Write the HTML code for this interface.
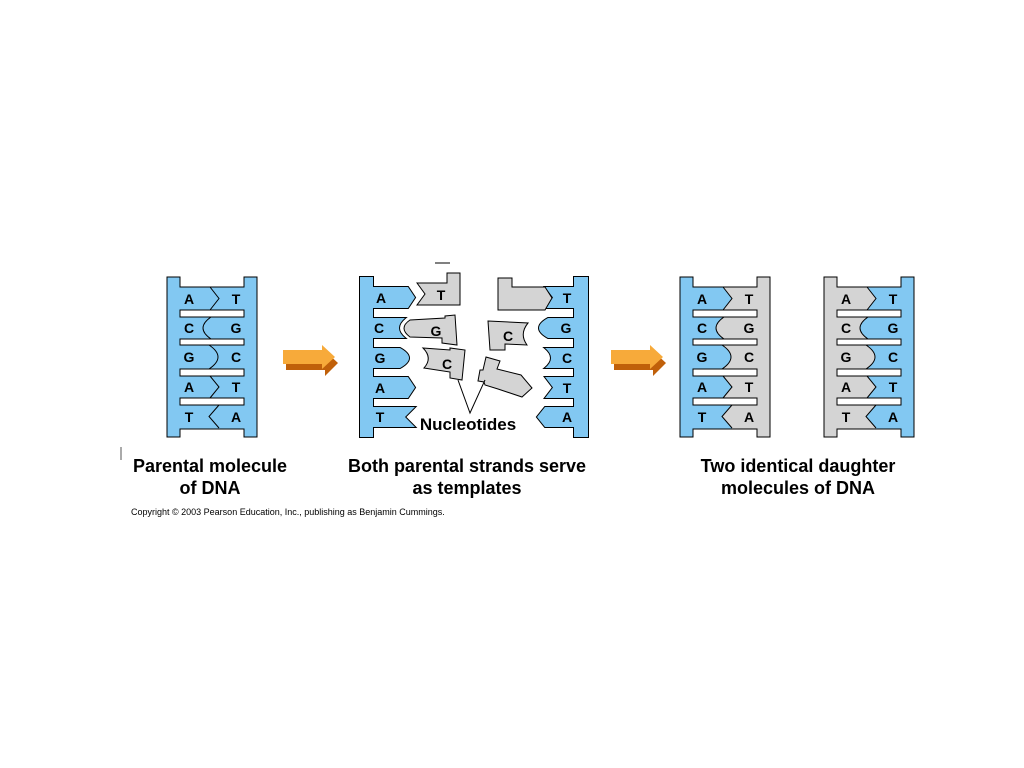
<!DOCTYPE html>
<html><head><meta charset="utf-8"><style>
html,body{margin:0;padding:0;background:#fff;}
svg{display:block;}
text{font-family:"Liberation Sans",Arial,sans-serif;font-weight:bold;fill:#000;}
</style></head><body>
<svg width="1024" height="768" viewBox="0 0 1024 768" xmlns="http://www.w3.org/2000/svg">
<defs>
  <path id="outer" d="M0,0 L13,0 L13,10 L77,10 L77,0 L90,0 L90,160 L77,160 L77,152 L13,152 L13,160 L0,160 Z"/>
  <path id="lefthalf" d="M0,0 L13,0 L13,10 L43,10 L52,21.5 L43,33 L44,40 Q28,51 44,62 L42,68 Q60,80 42,92 L43,99 L52,110 L43,121 L52,128 L42,139.5 L52,151 L52,152 L13,152 L13,160 L0,160 Z"/>
  <path id="bound" d="M43,10 L52,21.5 L43,33 M44,40 Q28,51 44,62 M42,68 Q60,80 42,92 M43,99 L52,110 L43,121 M52,128 L42,139.5 L52,151" fill="none" stroke="#000" stroke-width="1"/>
  <g id="rungs" fill="#fff" stroke="#000" stroke-width="1">
    <rect x="13" y="33" width="64" height="7"/>
    <rect x="13" y="62" width="64" height="6"/>
    <rect x="13" y="92" width="64" height="7"/>
    <rect x="13" y="121" width="64" height="7"/>
  </g>
  <g id="labels" font-size="14" text-anchor="middle">
    <text x="22" y="27">A</text><text x="69" y="27">T</text>
    <text x="22" y="56">C</text><text x="69" y="56">G</text>
    <text x="22" y="85">G</text><text x="69" y="85">C</text>
    <text x="22" y="115">A</text><text x="69" y="115">T</text>
    <text x="22" y="145">T</text><text x="69" y="145">A</text>
  </g>
</defs>

<!-- Parental -->
<g transform="translate(167,277)">
  <use href="#outer" fill="#82c8f2"/>
  <use href="#lefthalf" fill="#82c8f2"/>
  <use href="#bound"/>
  <use href="#rungs"/>
  <use href="#outer" fill="none" stroke="#000" stroke-width="1"/>
  <use href="#labels"/>
</g>

<!-- Daughter 1 -->
<g transform="translate(680,277)">
  <use href="#outer" fill="#d4d4d4"/>
  <use href="#lefthalf" fill="#82c8f2"/>
  <use href="#bound"/>
  <use href="#rungs"/>
  <use href="#outer" fill="none" stroke="#000" stroke-width="1"/>
  <use href="#labels"/>
</g>

<!-- Daughter 2 -->
<g transform="translate(824,277)">
  <use href="#outer" fill="#82c8f2"/>
  <use href="#lefthalf" fill="#d4d4d4"/>
  <use href="#bound"/>
  <use href="#rungs"/>
  <use href="#outer" fill="none" stroke="#000" stroke-width="1"/>
  <use href="#labels"/>
</g>

<!-- Middle: left strand -->
<g id="ls">
  <rect x="360" y="277" width="13" height="160"/>
  <polygon points="372,287 408,287 415,297.5 408,308 372,308"/>
  <path d="M372,318 L405,318 Q393,328 405,338 L372,338 Z"/>
  <path d="M372,348 L400,348 Q418,358 400,368 L372,368 Z"/>
  <polygon points="372,377 408,377 415,387.5 408,398 372,398"/>
  <polygon points="372,407 415,407 405,417 415,427 372,427"/>
</g>
<g id="rs">
  <rect x="574" y="277" width="14" height="160"/>
  <polygon points="575,287 545,287 553,297.5 545,308 575,308"/>
  <path d="M575,318 L548,318 Q530,328 548,338 L575,338 Z"/>
  <path d="M575,348 L545,348 Q557,358 545,368 L575,368 Z"/>
  <polygon points="575,377 545,377 553,387.5 545,398 575,398"/>
  <polygon points="575,407 545,407 537,417 545,427 575,427"/>
</g>
<use href="#ls" fill="#82c8f2" stroke="#000" stroke-width="2"/>
<use href="#ls" fill="#82c8f2"/>
<use href="#rs" fill="#82c8f2" stroke="#000" stroke-width="2"/>
<use href="#rs" fill="#82c8f2"/>
<g font-size="14" text-anchor="middle">
  <text x="381" y="303">A</text>
  <text x="379" y="333">C</text>
  <text x="380" y="363">G</text>
  <text x="380" y="393">A</text>
  <text x="380" y="422">T</text>
  <text x="567" y="303">T</text>
  <text x="566" y="333">G</text>
  <text x="567" y="363">C</text>
  <text x="567" y="393">T</text>
  <text x="567" y="422">A</text>
</g>

<!-- Free nucleotides -->
<g fill="#d4d4d4" stroke="#000" stroke-width="1" stroke-linejoin="miter">
  <polygon points="417,283 425,294 417,305 460,305 460,273 447,273 447,283"/>
  <polygon points="498,278 512,278 512,287 545,287 552,298 545,310 498,310"/>
  <path d="M410,320 L445,318 L445,316 L455,315 L457,345 L442,343 L442,338 L410,337 Q398,328 410,320 Z"/>
  <path d="M423,348 L450,350 L450,348 L465,350 L462,380 L450,378 L450,372 L424,368 Q433,358 423,348 Z"/>
  <path d="M488,321 L528,323 Q519,334 527,345 L505,344 L505,350 L490,350 Z"/>
  <polygon points="486,357 500,361 497,369 521,375 532,388 522,397 498,389 485,385 484,382 478,381 480,370 483,370"/>
</g>
<line x1="435" y1="263" x2="450" y2="263" stroke="#000" stroke-width="1"/>
<g font-size="14" text-anchor="middle">
  <text x="441" y="300">T</text>
  <text x="436" y="336">G</text>
  <text x="447" y="369">C</text>
  <text x="508" y="341">C</text>
</g>
<polyline points="458,380 470,413 485,380" fill="none" stroke="#000" stroke-width="1"/>
<text x="468" y="430" font-size="17" text-anchor="middle">Nucleotides</text>

<!-- Arrows -->
<g>
  <polygon points="286,356 325,356 325,351 338,363 325,376 325,370 286,370" fill="#c0600a"/>
  <polygon points="283,350 322,350 322,345 335,357 322,369 322,364 283,364" fill="#f7aa3a"/>
</g>
<g transform="translate(328,0)">
  <polygon points="286,356 325,356 325,351 338,363 325,376 325,370 286,370" fill="#c0600a"/>
  <polygon points="283,350 322,350 322,345 335,357 322,369 322,364 283,364" fill="#f7aa3a"/>
</g>

<!-- Captions -->
<g font-size="18" text-anchor="middle">
  <text x="210" y="472">Parental molecule</text>
  <text x="210" y="494">of DNA</text>
  <text x="467" y="472">Both parental strands serve</text>
  <text x="467" y="494">as templates</text>
  <text x="798" y="472">Two identical daughter</text>
  <text x="798" y="494">molecules of DNA</text>
</g>
<line x1="121" y1="447" x2="121" y2="460" stroke="#555" stroke-width="1"/>
<text x="131" y="515" font-size="9" style="font-weight:normal">Copyright © 2003 Pearson Education, Inc., publishing as Benjamin Cummings.</text>
</svg>
</body></html>
